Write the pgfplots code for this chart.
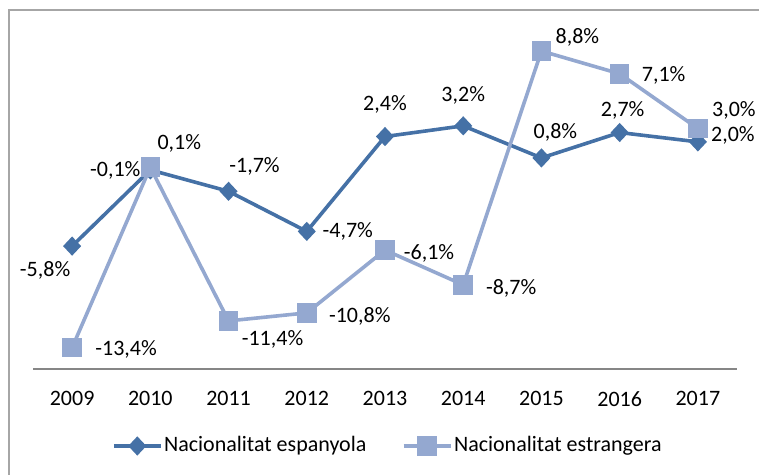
\documentclass[border=0pt]{standalone}
\usepackage{fontspec}
\setmainfont{Carlito}
\usepackage{pgfplots}
\pgfplotsset{compat=1.18}
\definecolor{dblue}{HTML}{4571A6}
\definecolor{lblue}{HTML}{94A8D0}
\definecolor{axgray}{HTML}{868686}
\definecolor{framegray}{HTML}{A6A6A6}
\begin{document}
\fontsize{22bp}{26bp}\selectfont
\begin{tikzpicture}[x=1bp,y=1bp]
\useasboundingbox (0,0) rectangle (759,-475);
\draw[framegray, line width=1.2bp] (9,-480) -- (9,-10) -- (765,-10);
\begin{axis}[
  at={(33bp,-369bp)}, anchor=south west,
  scale only axis, width=704bp, height=334bp,
  xmin=-0.5, xmax=8.5, ymin=-15, ymax=10,
  axis x line*=bottom, axis y line=none,
  x axis line style={axgray, line width=1.5bp, -},
  xtick={0,...,8},
  xticklabels={2009,2010,2011,2012,2013,2014,2015,2016,2017},
  major tick length=0pt,
  ytick=\empty,
  xticklabel style={font=\fontsize{22bp}{26bp}\selectfont, yshift=-15bp},
  clip=false,
  legend columns=2,
  legend style={at={(0.5036,-0.2305)}, anchor=center, draw=none, fill=none,
    font=\fontsize{22bp}{26bp}\selectfont,
    /tikz/every even column/.append style={column sep=34bp},
    nodes={inner sep=1.5bp}},
  legend image code/.code={\draw[#1, mark repeat=2, mark phase=2] plot coordinates {(0bp,0bp) (23.5bp,0bp) (47bp,0bp)};},
]
\addplot[color=dblue, line width=3.6bp, mark=diamond*, mark size=7bp, mark options={solid, xscale=1.25}]
  coordinates {(0,-5.8) (1,-0.1) (2,-1.7) (3,-4.7) (4,2.4) (5,3.2) (6,0.8) (7,2.7) (8,2.0)};
\addlegendentry{Nacionalitat espanyola}
\addplot[color=lblue, line width=3.6bp, mark=square*, mark size=8bp, mark options={solid}]
  coordinates {(0,-13.4) (1,0.1) (2,-11.4) (3,-10.8) (4,-6.1) (5,-8.7) (6,8.8) (7,7.1) (8,3.0)};
\addlegendentry{Nacionalitat estrangera}

% labels series 1
\node[xshift=-27bp, yshift=-24bp] at (axis cs:0,-5.8) {-5,8\%};
\node[xshift=-35bp, yshift=0bp] at (axis cs:1,-0.1) {-0,1\%};
\node[xshift=26bp, yshift=25bp] at (axis cs:2,-1.7) {-1,7\%};
\node[xshift=41bp, yshift=0bp] at (axis cs:3,-4.7) {-4,7\%};
\node[xshift=0bp, yshift=32bp] at (axis cs:4,2.4) {2,4\%};
\node[xshift=0bp, yshift=30bp] at (axis cs:5,3.2) {3,2\%};
\node[xshift=14bp, yshift=26bp] at (axis cs:6,0.8) {0,8\%};
\node[xshift=3bp, yshift=22bp] at (axis cs:7,2.7) {2,7\%};
\node[xshift=35bp, yshift=6bp] at (axis cs:8,2.0) {2,0\%};
% labels series 2
\node[xshift=54bp, yshift=-2bp] at (axis cs:0,-13.4) {-13,4\%};
\node[xshift=29bp, yshift=24bp] at (axis cs:1,0.1) {0,1\%};
\node[xshift=44bp, yshift=-18bp] at (axis cs:2,-11.4) {-11,4\%};
\node[xshift=53bp, yshift=-4bp] at (axis cs:3,-10.8) {-10,8\%};
\node[xshift=44bp, yshift=-3bp] at (axis cs:4,-6.1) {-6,1\%};
\node[xshift=48bp, yshift=-4bp] at (axis cs:5,-8.7) {-8,7\%};
\node[xshift=36bp, yshift=14bp] at (axis cs:6,8.8) {8,8\%};
\node[xshift=44bp, yshift=-2bp] at (axis cs:7,7.1) {7,1\%};
\node[xshift=36bp, yshift=18bp] at (axis cs:8,3.0) {3,0\%};
\end{axis}
\end{tikzpicture}
\end{document}
